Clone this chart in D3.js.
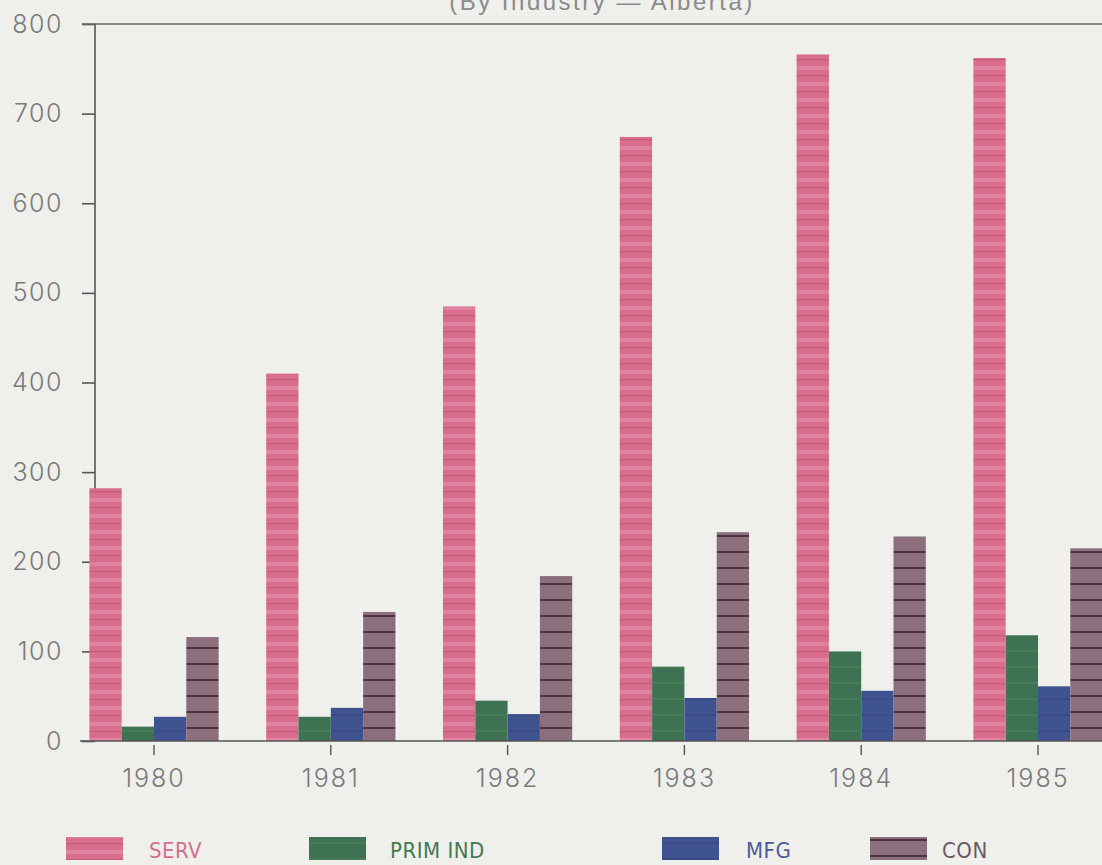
<!DOCTYPE html>
<html><head><meta charset="utf-8">
<script src="https://cdn.jsdelivr.net/npm/d3@7"></script>
<style>html,body{margin:0;padding:0;background:#efefec;overflow:hidden}</style>
</head><body><svg id="c" width="1102" height="865"></svg>
<script>
// ---- data ----
const years = ["1980", "1981", "1982", "1983", "1984", "1985"];
const seriesNames = ["SERV", "PRIM IND", "MFG", "CON"];
const serv = [282, 410, 485, 674, 766, 762];
const primInd = [16, 27, 45, 83, 100, 118];
const mfg = [27, 37, 30, 48, 56, 61];
const con = [116, 144, 184, 233, 228, 215];
const yTicks = [0, 100, 200, 300, 400, 500, 600, 700, 800];
const title = "(By Industry \u2014 Alberta)";

// ---- layout / style ----
const W = 1102, H = 865;
const M = {left: 95, top: 24, bottom: 741};
const colors = {
  "SERV": "#d86d8d", "PRIM IND": "#3e7252", "MFG": "#3f5391", "CON": "#8c6e7c"
};
const textColors = {
  "SERV": "#d66f8e", "PRIM IND": "#3f7a50", "MFG": "#4b5b98", "CON": "#6c5862"
};
const legendSwatchX = [66, 309, 662, 870];
const legendTextX = [149, 390, 746, 942];

const svg = d3.select("#c");
const defs = svg.append("defs");
const pid = s => "p-" + s.replace(/\s+/g, "_");

// stripe patterns imitating the plotter hatching
function makePattern(s, stripes) {
  const p = defs.append("pattern").attr("id", pid(s))
    .attr("patternUnits", "userSpaceOnUse").attr("width", 8).attr("height", 16);
  p.append("rect").attr("width", 8).attr("height", 16).attr("fill", colors[s]);
  stripes.forEach(st => p.append("rect").attr("y", st.y).attr("width", 8)
    .attr("height", st.h).attr("fill", st.c).attr("opacity", st.o));
}
makePattern("SERV", [{y: 2, h: 4, c: "#e48fab", o: 0.6}, {y: 11, h: 1.2, c: "#b9536f", o: 0.7}]);
makePattern("CON", [{y: 7, h: 2, c: "#4a3540", o: 1}]);
makePattern("PRIM IND", [{y: 10, h: 2, c: "#4f8c5c", o: 0.45}]);
makePattern("MFG", [{y: 10, h: 2, c: "#34457a", o: 0.5}]);

const fillOf = s => `url(#${pid(s)})`;

// ---- scales ----
const y = d3.scaleLinear().domain([0, 800]).range([M.bottom, M.top]);
const x0 = d3.scaleBand().domain(years).range([65.6, 1126.4])
  .paddingInner(0.269).paddingOuter(0.1345);
const x1 = d3.scaleBand().domain(seriesNames).range([0, x0.bandwidth()]);

const valuesBySeries = {"SERV": serv, "PRIM IND": primInd, "MFG": mfg, "CON": con};
const rows = years.map((yr, i) => ({
  year: yr,
  vals: seriesNames.map(s => ({key: s, value: valuesBySeries[s][i]}))
}));

const axisFont = "Inter, 'DejaVu Sans', sans-serif";

// ---- title ----
svg.append("text").attr("x", 602).attr("y", 10)
  .attr("text-anchor", "middle")
  .style("font-family", "'Liberation Sans', Arial, sans-serif")
  .style("font-size", "24px").style("letter-spacing", "2.5px")
  .attr("fill", "#8a8a8a").text(title);

// ---- y axis ----
const yAxis = svg.append("g").attr("transform", `translate(${M.left},0)`)
  .call(d3.axisLeft(y).tickValues(yTicks).tickSize(13).tickPadding(19).tickFormat(d3.format("d")));
yAxis.select(".domain").remove();
yAxis.selectAll(".tick line").attr("stroke", "#555").attr("stroke-width", 1.6);
yAxis.selectAll(".tick text")
  .style("font-family", axisFont).style("font-size", "25px").style("font-weight", 300)
  .style("letter-spacing", "1.5px")
  .attr("fill", "#7a7a7a");

// frame lines: top line, y axis
svg.append("line").attr("x1", 82).attr("x2", W).attr("y1", y(800)).attr("y2", y(800))
  .attr("stroke", "#666").attr("stroke-width", 1.6);
svg.append("line").attr("x1", M.left).attr("x2", M.left).attr("y1", y(800)).attr("y2", y(0))
  .attr("stroke", "#555").attr("stroke-width", 1.6);

// ---- bars ----
const groups = svg.append("g").selectAll("g").data(rows).join("g")
  .attr("transform", d => `translate(${x0(d.year)},0)`);
groups.selectAll("rect").data(d => d.vals).join("rect")
  .attr("x", d => x1(d.key))
  .attr("width", x1.bandwidth())
  .attr("y", d => y(d.value))
  .attr("height", d => y(0) - y(d.value))
  .attr("fill", d => fillOf(d.key));

// baseline
svg.append("line").attr("x1", 80).attr("x2", W).attr("y1", y(0)).attr("y2", y(0))
  .attr("stroke", "#555").attr("stroke-width", 1.6);

// ---- x axis ----
const xAxis = svg.append("g").attr("transform", `translate(0,${y(0) + 4})`)
  .call(d3.axisBottom(x0).tickSize(10).tickPadding(14));
xAxis.select(".domain").remove();
xAxis.selectAll(".tick line").attr("stroke", "#555").attr("stroke-width", 1.4);
xAxis.selectAll(".tick text")
  .style("font-family", axisFont).style("font-size", "25px").style("font-weight", 300)
  .style("letter-spacing", "2px")
  .attr("fill", "#7a7a7a");

// ---- legend ----
const legend = svg.append("g");
seriesNames.forEach((s, i) => {
  legend.append("rect").attr("x", legendSwatchX[i]).attr("y", 837)
    .attr("width", 57).attr("height", 23).attr("fill", fillOf(s));
  legend.append("text").attr("x", legendTextX[i]).attr("y", 858)
    .style("font-family", "'Liberation Sans Narrow', 'DejaVu Sans Condensed', 'Liberation Sans', sans-serif")
    .style("font-size", "22px").style("letter-spacing", "0.5px")
    .attr("fill", textColors[s]).text(s);
});
</script></body></html>
